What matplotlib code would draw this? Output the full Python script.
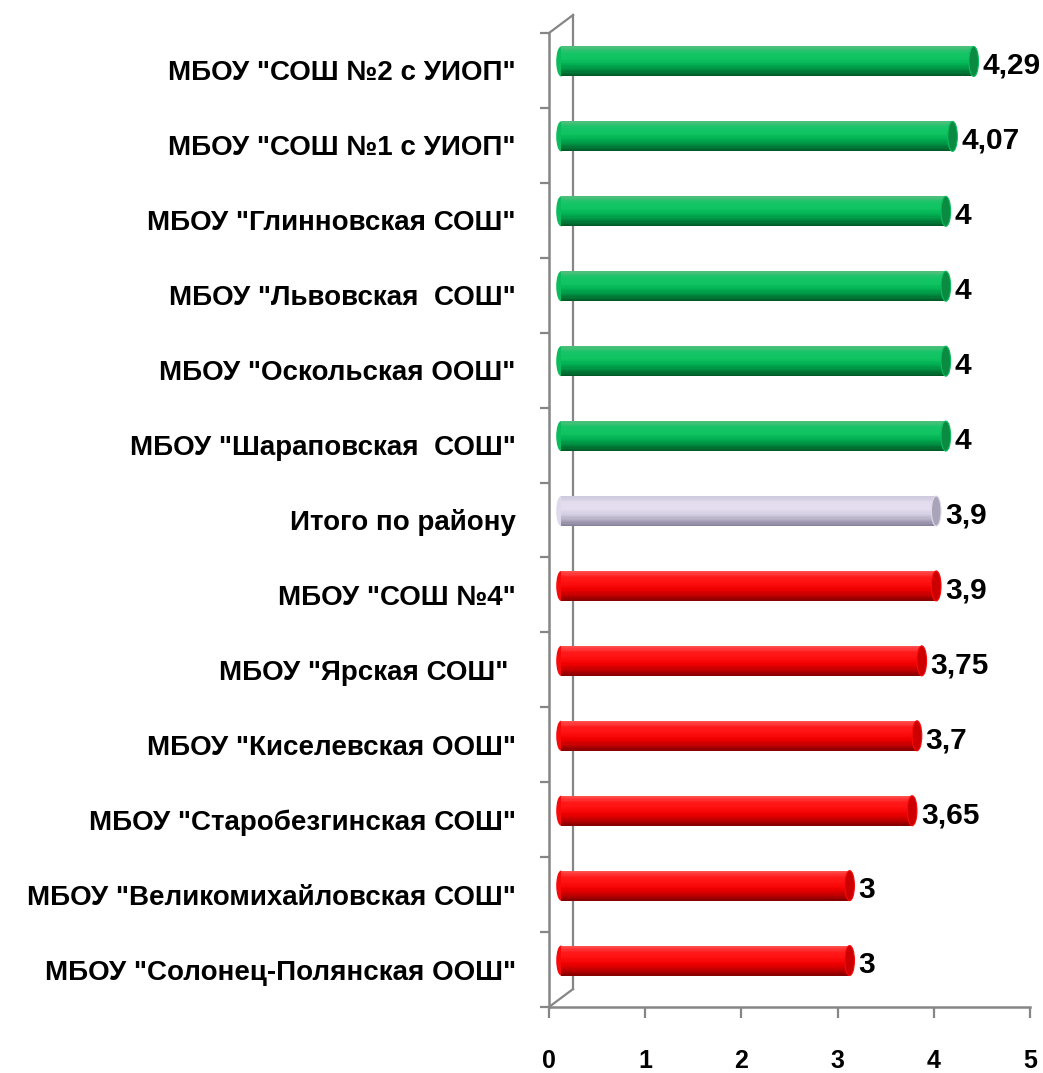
import numpy as np
import matplotlib
matplotlib.use('Agg')
import matplotlib.pyplot as plt
from matplotlib.patches import Ellipse
from matplotlib.colors import to_rgb

plt.rcParams['font.family'] = ['Liberation Sans', 'DejaVu Sans']
plt.rcParams['font.weight'] = 'bold'

# данные (сверху вниз)
schools = ['МБОУ "СОШ №2 с УИОП"', 'МБОУ "СОШ №1 с УИОП"', 'МБОУ "Глинновская СОШ"',
           'МБОУ "Львовская  СОШ"', 'МБОУ "Оскольская ООШ"', 'МБОУ "Шараповская  СОШ"',
           'Итого по району', 'МБОУ "СОШ №4"', 'МБОУ "Ярская СОШ" ',
           'МБОУ "Киселевская ООШ"', 'МБОУ "Старобезгинская СОШ"',
           'МБОУ "Великомихайловская СОШ"', 'МБОУ "Солонец-Полянская ООШ"']
scores = [4.29, 4.07, 4, 4, 4, 4, 3.9, 3.9, 3.75, 3.7, 3.65, 3, 3]
groups = ['g', 'g', 'g', 'g', 'g', 'g', 'v', 'r', 'r', 'r', 'r', 'r', 'r']
xticks = [0, 1, 2, 3, 4, 5]

# градиенты цилиндров (снизу вверх)
grad = {
    'g': ['#005a26', '#008a40', '#00b052', '#10c462', '#14c466', '#4cbf7a'],
    'r': ['#8a0000', '#c80000', '#f00000', '#ff1010', '#ff1a1a', '#ff5050'],
    'v': ['#86829a', '#b2acc2', '#d6d0e4', '#e4def0', '#e2dcee', '#cfc9dd'],
}
cap = {'g': '#0b8a42', 'r': '#cc0000', 'v': '#aaa4b8'}

names = schools[::-1]
vals = scores[::-1]
grp = groups[::-1]
y = np.arange(len(names))

fig = plt.figure(figsize=(10.43, 10.73), dpi=100)
ax = fig.add_axes([549 / 1043, 66 / 1073, 481 / 1043, 974 / 1073])
ax.set_xlim(0, 5)
ax.set_ylim(-0.5, len(names) - 0.5)

DX, DY = 0.125, 0.12   # сдвиг глубины (середина)
H = 0.4
CW = 0.1
axc = '#868686'


def ramp(stops, n):
    s = np.array([to_rgb(c) for c in stops])
    t = np.linspace(0, 1, len(stops))
    tt = np.linspace(0, 1, n)
    return [tuple(np.interp(v, t, s[:, k]) for k in range(3)) for v in tt]


N = 24
for yi, v, g in zip(y, vals, grp):
    cols = ramp(grad[g], N)
    yc = yi + DY
    # левый торец
    ax.add_patch(Ellipse((DX, yc), CW, H, facecolor=cols[N // 2], edgecolor='none', zorder=2))
    for k in range(N):
        ax.barh(yc - H / 2 + (k + 0.5) * H / N, v, height=H / N * 1.05, left=DX,
                color=cols[k], edgecolor='none', zorder=3)
    ax.add_patch(Ellipse((DX + v, yc), CW, H, facecolor=cap[g], edgecolor=cols[N // 2],
                         linewidth=0.8, zorder=4))
    lab = f'{v:g}'.replace('.', ',')
    ax.text(DX + v + CW / 2 + 0.04, yc - 0.06, lab, fontsize=21.5, fontweight='bold',
            ha='left', va='center', zorder=5)

# задняя стенка
top, bot = len(names) - 0.5, -0.5
ax.plot([2 * DX, 2 * DX], [bot + 2 * DY, top + 2 * DY], color=axc, lw=1.6, clip_on=False, zorder=1)
ax.plot([0, 2 * DX], [top, top + 2 * DY], color=axc, lw=1.6, clip_on=False, zorder=1)
ax.plot([0, 2 * DX], [bot, bot + 2 * DY], color=axc, lw=1.6, clip_on=False, zorder=1)

for s in ['top', 'right']:
    ax.spines[s].set_visible(False)
for s in ['left', 'bottom']:
    ax.spines[s].set_color(axc)
    ax.spines[s].set_linewidth(1.8)

ax.set_yticks(y)
ax.set_yticklabels(names, fontsize=20, fontweight='bold')
ax.set_yticks(np.arange(-0.5, len(names)), minor=True)
ax.tick_params(axis='y', which='major', length=0, pad=24)
ax.tick_params(axis='y', which='minor', length=6.5, width=1.6, color=axc, direction='out')

ax.set_xticks(xticks)
ax.set_xticklabels([str(t) for t in xticks], fontsize=18, fontweight='bold')
ax.tick_params(axis='x', which='major', length=8, width=1.6, color=axc, direction='out', pad=22)

fig.savefig('out.png', dpi=100)
